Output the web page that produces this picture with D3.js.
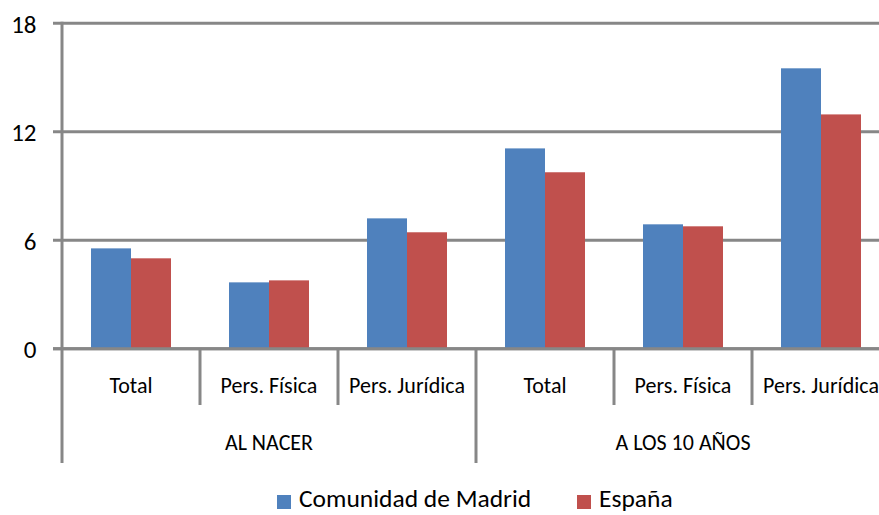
<!DOCTYPE html>
<html><head><meta charset="utf-8">
<script src="https://cdn.jsdelivr.net/npm/d3@7"></script>
<style>
html,body{margin:0;padding:0;background:#fff;overflow:hidden;}
text{font-family:Carlito,"Liberation Sans Narrow","DejaVu Sans Condensed",sans-serif;fill:#000;}
</style></head>
<body>
<svg id="c" width="879" height="515"></svg>
<script>
const groups = ["AL NACER", "A LOS 10 AÑOS"];
const subcategories = ["Total", "Pers. Física", "Pers. Jurídica"];
const series = ["Comunidad de Madrid", "España"];
const madrid = [5.55, 3.67, 7.21, 11.08, 6.88, 15.51];
const espana = [5.0, 3.78, 6.44, 9.76, 6.77, 12.96];
const yTicks = [0, 6, 12, 18];
const colors = ["#4F81BD", "#C0504D"];

(function(){
const svg = d3.select("#c");
const pL = 62, pR = 890, pT = 23.3, pB = 348.7;
const cats = [];
groups.forEach((g, gi) => subcategories.forEach((s, si) => cats.push({g, s, key: gi + "-" + si})));
const values = [madrid, espana];

const x0 = d3.scaleBand().domain(cats.map(d => d.key)).range([pL, pR]).padding(0);
const x1 = d3.scaleBand().domain(series).range([0, x0.bandwidth()]).paddingInner(0).paddingOuter(0.725);
const y = d3.scaleLinear().domain([0, 18]).range([pB, pT]);

const grey = "#878787";
svg.append("g").selectAll("line").data(yTicks).join("line")
  .attr("x1", pL - 9).attr("x2", 879).attr("y1", d => y(d)).attr("y2", d => y(d))
  .attr("stroke", grey).attr("stroke-width", 3);

cats.forEach((c, i) => {
  series.forEach((s, si) => {
    svg.append("rect")
      .attr("x", x0(c.key) + x1(s)).attr("width", x1.bandwidth())
      .attr("y", y(values[si][i])).attr("height", y(0) - y(values[si][i]))
      .attr("fill", colors[si]);
  });
});

svg.append("line").attr("x1", pL - 9).attr("x2", 879).attr("y1", y(0)).attr("y2", y(0))
  .attr("stroke", grey).attr("stroke-width", 3);
svg.append("line").attr("x1", pL).attr("x2", pL).attr("y1", pT - 1.5).attr("y2", 463)
  .attr("stroke", grey).attr("stroke-width", 3);

svg.append("g").selectAll("text").data(yTicks).join("text")
  .attr("x", 36.5).attr("y", d => y(d) + 9.5).attr("text-anchor", "end")
  .attr("font-size", 25).text(d => d);

const bounds = d3.range(1, cats.length).map(i => x0(cats[i].key));
bounds.forEach((b, i) => {
  const isGroup = (i + 1) % subcategories.length === 0;
  svg.append("line").attr("x1", b).attr("x2", b).attr("y1", y(0)).attr("y2", isGroup ? 463 : 405)
    .attr("stroke", grey).attr("stroke-width", 3);
});

svg.append("g").selectAll("text").data(cats).join("text")
  .attr("x", d => x0(d.key) + x0.bandwidth() / 2).attr("y", 393)
  .attr("text-anchor", "middle").attr("font-size", 22).text(d => d.s);

svg.append("g").selectAll("text").data(groups).join("text")
  .attr("x", (d, i) => (x0(cats[i * 3].key) + x0(cats[i * 3 + 2].key) + x0.bandwidth()) / 2)
  .attr("y", 450).attr("text-anchor", "middle").attr("font-size", 22).text(d => d);

const leg = svg.append("g");
const legX = [277, 577];
series.forEach((s, i) => {
  leg.append("rect").attr("x", legX[i]).attr("y", 495).attr("width", 14).attr("height", 14).attr("fill", colors[i]);
  leg.append("text").attr("x", legX[i] + 22).attr("y", 507).attr("font-size", 25.5).text(s);
});
})();
</script>
</body></html>
